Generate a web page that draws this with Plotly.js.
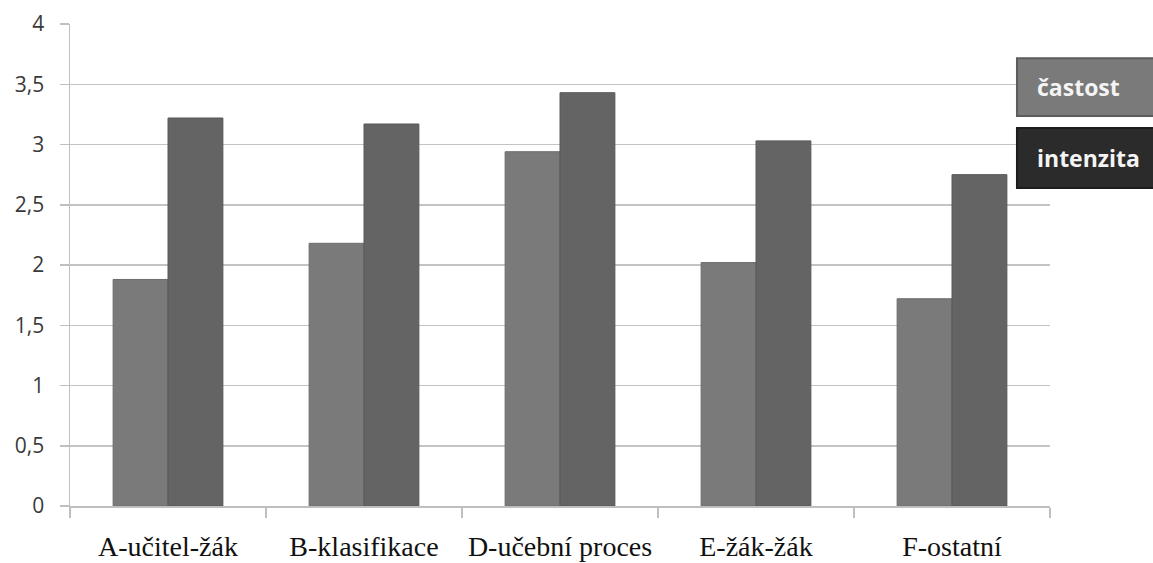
<!DOCTYPE html>
<html>
<head>
<meta charset="utf-8">
<script src="https://cdn.plot.ly/plotly-3.0.1.min.js"></script>
<style>
  html, body { margin: 0; padding: 0; background: #ffffff; }
  #chart { width: 1153px; height: 563px; }
</style>
</head>
<body>
<div id="chart"></div>
<script>
// Categories of the survey and the two measured series
const categories = ['A-učitel-žák', 'B-klasifikace', 'D-učební proces', 'E-žák-žák', 'F-ostatní'];
const castost = [1.88, 2.18, 2.94, 2.02, 1.72];
const intenzita = [3.22, 3.17, 3.43, 3.03, 2.75];
const seriesNames = ['častost', 'intenzita'];
const yTicks = [0, 0.5, 1, 1.5, 2, 2.5, 3, 3.5, 4];

const traces = [
  {
    type: 'bar', name: seriesNames[0], x: categories, y: castost,
    marker: { color: '#7a7a7a', line: { color: '#6c6c6c', width: 1 } },
    showlegend: false, hoverinfo: 'x+y'
  },
  {
    type: 'bar', name: seriesNames[1], x: categories, y: intenzita,
    marker: { color: '#646464', line: { color: '#595959', width: 1 } },
    showlegend: false, hoverinfo: 'x+y'
  }
];

// Series labels drawn as filled boxes at the right edge
const boxes = [
  { label: seriesNames[0], fill: '#7a7a7a', border: '#5c5c5c', y0: 0.809, y1: 0.929 },
  { label: seriesNames[1], fill: '#2b2b2b', border: '#1c1c1c', y0: 0.660, y1: 0.784 }
];

const shapes = boxes.map(b => ({
  type: 'rect', xref: 'paper', yref: 'paper',
  x0: 0.9663, x1: 1.12, y0: b.y0, y1: b.y1,
  fillcolor: b.fill, line: { color: b.border, width: 2 }, layer: 'above'
}));

const annotations = boxes.map(b => ({
  xref: 'paper', yref: 'paper', x: 0.985, y: (b.y0 + b.y1) / 2,
  xanchor: 'left', yanchor: 'middle', showarrow: false,
  text: '<b>' + b.label + '</b>',
  font: { family: 'Open Sans, sans-serif', size: 23, color: '#f4f4f4' }
}));

const layout = {
  width: 1153, height: 563,
  margin: { l: 70, r: 103, t: 24, b: 57 },
  paper_bgcolor: '#ffffff', plot_bgcolor: '#ffffff',
  separators: ', ',
  barmode: 'group', bargap: 0.44, bargroupgap: 0,
  showlegend: false,
  xaxis: {
    type: 'category',
    tickson: 'boundaries', ticks: 'outside', ticklen: 10,
    tickcolor: '#bfbfbf', tickwidth: 1.5,
    showline: true, linecolor: '#bfbfbf', linewidth: 1.5,
    showgrid: false, zeroline: false,
    tickangle: 0,
    ticklabelstandoff: 15,
    tickfont: { family: 'Liberation Serif, Times New Roman, serif', size: 28, color: '#111111' }
  },
  yaxis: {
    range: [0, 4], tickvals: yTicks,
    ticks: 'outside', ticklen: 9, tickcolor: '#bfbfbf', tickwidth: 1.5,
    showline: true, linecolor: '#bfbfbf', linewidth: 1.5,
    showgrid: true, gridcolor: '#c4c4c4', gridwidth: 1.5,
    zeroline: false,
    ticklabelstandoff: 11,
    tickfont: { family: 'Open Sans, sans-serif', size: 21, color: '#3a3a3a' }
  },
  shapes: shapes,
  annotations: annotations
};

Plotly.newPlot('chart', traces, layout, { displayModeBar: false, staticPlot: true });
</script>
</body>
</html>
